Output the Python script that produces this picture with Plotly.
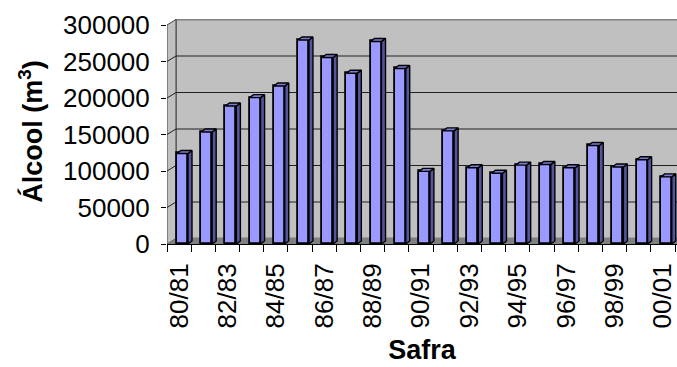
import plotly.graph_objects as go

# Alcohol production per harvest season (m³)
seasons = ["80/81", "81/82", "82/83", "83/84", "84/85", "85/86", "86/87",
           "87/88", "88/89", "89/90", "90/91", "91/92", "92/93", "93/94",
           "94/95", "95/96", "96/97", "97/98", "98/99", "99/00", "00/01"]
alcool = [124000, 153500, 189000, 200500, 216500, 279500, 255500,
          234000, 277500, 240500, 99500, 155000, 104500, 97000,
          108000, 109000, 104500, 135000, 105500, 115500, 92000]
y_ticks = [0, 50000, 100000, 150000, 200000, 250000, 300000]

# ---- pseudo-3D geometry (pixel sizes converted to data units) ----
W, H = 677, 367
m_l, m_r, m_t, m_b = 167, 0, 19, 123
n = len(seasons)
cat_px = 508 / n                      # pixels per category on the front axis
val_px = 300000 / 219                 # data units per pixel on the value axis
x0 = -0.5
x1 = x0 + (W - m_l - m_r) / cat_px
y_top = 300000 + (244 - m_t - 219) * val_px

wall_dx, wall_dy = 9 / cat_px, 5.5 * val_px      # depth of the walls
bar_dx, bar_dy = 4 / cat_px, 3 * val_px          # depth of each column
bar_shift = 3.4 / cat_px                          # columns sit mid-depth
bar_w = 11 / cat_px

fig = go.Figure()

# front faces of the columns
xs = [i + bar_shift for i in range(n)]
fig.add_trace(go.Bar(
    x=xs, y=alcool, width=bar_w,
    marker=dict(color="#9999ff", line=dict(color="black", width=1.8)),
    hoverinfo="skip", showlegend=False,
))

# side and top faces of the columns
side_x, side_y, top_x, top_y = [], [], [], []
for xc, v in zip(xs, alcool):
    xl, xr = xc - bar_w / 2, xc + bar_w / 2
    side_x += [xr, xr + bar_dx, xr + bar_dx, xr, xr, None]
    side_y += [0, bar_dy, v + bar_dy, v, 0, None]
    top_x += [xl, xl + bar_dx, xr + bar_dx, xr, xl, None]
    top_y += [v, v + bar_dy, v + bar_dy, v, v, None]
fig.add_trace(go.Scatter(
    x=side_x, y=side_y, mode="lines", fill="toself", fillcolor="#55559f",
    line=dict(color="black", width=1.4), hoverinfo="skip", showlegend=False,
))
fig.add_trace(go.Scatter(
    x=top_x, y=top_y, mode="lines", fill="toself", fillcolor="#7c7cd6",
    line=dict(color="black", width=1.4), hoverinfo="skip", showlegend=False,
))

shapes = []
# back wall
shapes.append(dict(type="rect", xref="x", yref="y", layer="below",
                   x0=x0 + wall_dx, x1=x1 + 1, y0=wall_dy, y1=300000 + wall_dy,
                   fillcolor="#c0c0c0", line=dict(color="#808080", width=2)))
# side wall
shapes.append(dict(type="path", xref="x", yref="y", layer="below",
                   path=f"M{x0},0 L{x0 + wall_dx},{wall_dy} L{x0 + wall_dx},{300000 + wall_dy} "
                        f"L{x0},300000 Z",
                   fillcolor="#c0c0c0", line=dict(color="#404040", width=1)))
# floor
shapes.append(dict(type="path", xref="x", yref="y", layer="below",
                   path=f"M{x0},0 L{x0 + wall_dx},{wall_dy} L{x1 + 1},{wall_dy} L{x1 + 1},0 Z",
                   fillcolor="#808080", line=dict(color="#808080", width=0)))
# gridlines running across side wall and back wall
for t in y_ticks[1:-1]:
    shapes.append(dict(type="path", xref="x", yref="y", layer="below",
                       path=f"M{x0},{t} L{x0 + wall_dx},{t + wall_dy} L{x1 + 1},{t + wall_dy}",
                       line=dict(color="#202020", width=1)))

fig.update_layout(
    width=W, height=H,
    margin=dict(l=m_l, r=m_r, t=m_t, b=m_b),
    paper_bgcolor="white", plot_bgcolor="white",
    font=dict(family="Liberation Sans, Arial, sans-serif", color="black", size=26),
    shapes=shapes,
    bargap=0,
)
fig.update_xaxes(
    range=[x0, x1], showgrid=False, zeroline=False,
    showline=True, linecolor="black", linewidth=1,
    tickmode="array", tickvals=list(range(0, n, 2)), ticktext=seasons[::2],
    ticks="", tickangle=-90, ticklabelstandoff=8, ticklabeloverflow="allow",
    minor=dict(tickmode="array", tickvals=[i - 0.5 for i in range(n + 1)],
               ticks="outside", ticklen=7, tickcolor="black", tickwidth=1),
    title=dict(text="<b>Safra</b>", font=dict(size=27), standoff=12),
)
fig.update_yaxes(
    range=[0, y_top], showgrid=False, zeroline=False, showline=False,
    tickmode="array", tickvals=y_ticks, ticktext=[str(t) for t in y_ticks],
    ticks="outside", ticklen=5, tickcolor="black", tickwidth=1,
    ticklabelstandoff=6,
    title=dict(text="<b>Álcool (m<sup>3</sup>)</b>", font=dict(size=27), standoff=12),
)

fig.write_html("out.html")
